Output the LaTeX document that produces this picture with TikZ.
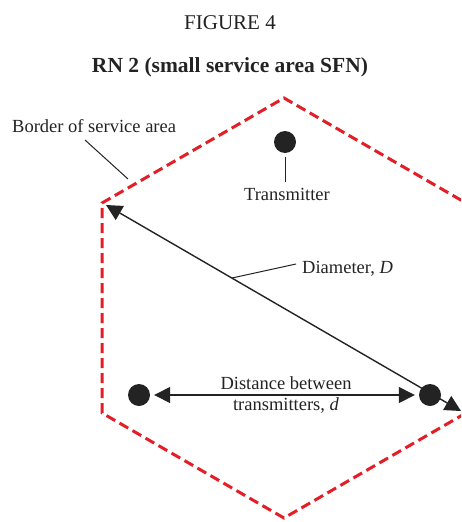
\documentclass[tikz,border=0pt]{standalone}
\usepackage{fontspec}
\setmainfont{Liberation Serif}
\usetikzlibrary{arrows.meta}
\definecolor{hexred}{RGB}{228,30,38}
\definecolor{ink}{RGB}{35,35,35}
\tikzset{
  lbl/.style={font=\fontsize{18.5}{20}\selectfont, text=ink, inner sep=0pt, anchor=base},
  dot/.style={circle, fill=ink, minimum size=22pt, inner sep=0pt},
  conn/.style={draw=ink, line width=1.4pt},
  darr/.style={conn, {Triangle[length=16pt,width=16pt]}-{Triangle[length=16pt,width=16pt]}},
  border/.style={draw=hexred, line width=3pt, dash pattern=on 10pt off 5pt},
  leader/.style={draw=ink, line width=1pt}
}
\begin{document}
\begin{tikzpicture}[x=1pt,y=-1pt]
\useasboundingbox (0,0) rectangle (461,522);
\clip (0,0) rectangle (461,522);
% titles
\node[lbl, font=\fontsize{21}{24}\selectfont] (fig) at (230,29) {FIGURE 4};
\node[lbl, font=\fontsize{21.5}{24}\bfseries\selectfont] (title) at (230,72) {RN 2 (small service area SFN)};
% hexagon border
\coordinate (vT) at (284,98);
\coordinate (vUL) at (102,203);
\coordinate (vLL) at (102,413);
\coordinate (vB) at (284,518);
\coordinate (vLR) at (466,413);
\coordinate (vUR) at (466,203);
\draw[border] (vLR) -- (vB) -- (vLL) -- (vUL) -- (vT) -- (vUR);
% transmitters
\node[dot] (tx1) at (285,142) {};
\node[dot] (tx2) at (139,395) {};
\node[dot] (tx3) at (430,395) {};
% transmitter label
\node[lbl] (txlab) at (287,200) {Transmitter};
\coordinate (txlabtop) at (285,182);
\draw[leader, shorten <=4pt] (tx1.south) -- (txlabtop);
% diameter
\coordinate (dA) at (106,205);
\coordinate (dB) at (461,411);
\draw[darr] (dA) -- (dB);
\node[lbl, anchor=base west] (diamlab) at (302,273) {Diameter, \textit{D}};
\coordinate (dmid) at (232,278);
\coordinate (dlead) at (296,264);
\draw[leader] (dlead) -- (dmid);
% distance
\draw[darr, shorten <=4pt, shorten >=4pt] (tx2) -- (tx3);
\node[lbl] (dist1) at (286,389) {Distance between};
\node[lbl] (dist2) at (286,410) {transmitters, \textit{d}};
% border label
\node[lbl, anchor=base west] (borderlab) at (12,132) {Border of service area};
\coordinate (bpt) at (128,179);
\coordinate (blead) at (85,140);
\draw[leader] (blead) -- (bpt);
\end{tikzpicture}
\end{document}
